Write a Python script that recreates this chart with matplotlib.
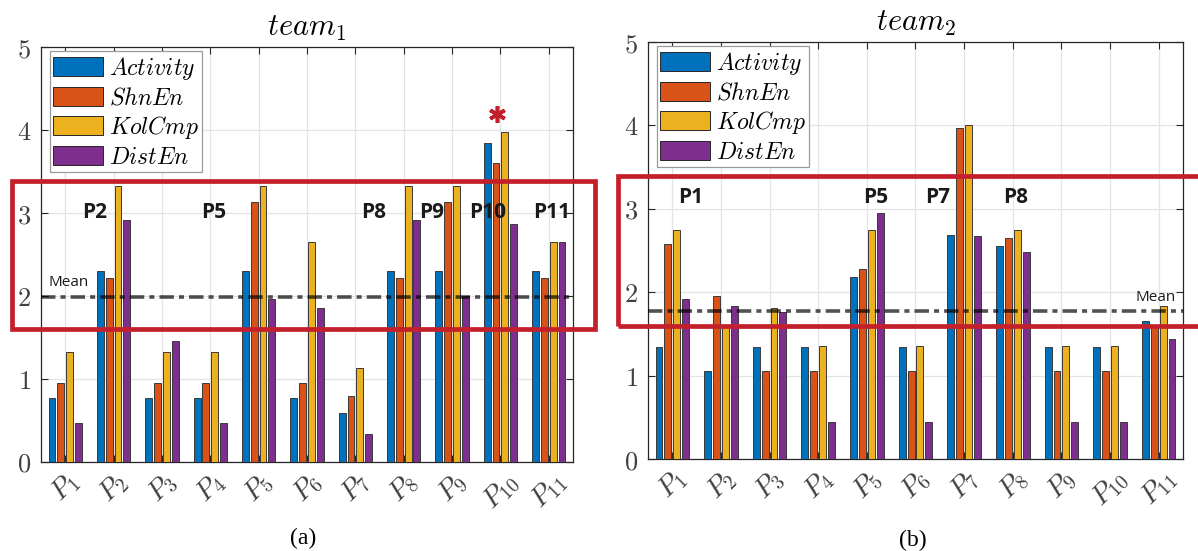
import matplotlib
matplotlib.use("Agg")
import matplotlib.pyplot as plt
import numpy as np
from matplotlib.patches import Rectangle

plt.rcParams["mathtext.fontset"] = "cm"
plt.rcParams["font.family"] = ["DejaVu Sans"]

# ── data ─────────────────────────────────────────────────────────────────
PARTICIPANTS = [f"P{i}" for i in range(1, 12)]
SERIES = ["Activity", "ShnEn", "KolCmp", "DistEn"]

team1_activity = [0.77, 2.30, 0.77, 0.77, 2.30, 0.77, 0.59, 2.30, 2.30, 3.84, 2.30]
team1_shnen = [0.95, 2.22, 0.95, 0.95, 3.13, 0.95, 0.79, 2.22, 3.13, 3.60, 2.22]
team1_kolcmp = [1.33, 3.32, 1.33, 1.33, 3.32, 2.65, 1.13, 3.32, 3.32, 3.98, 2.65]
team1_disten = [0.47, 2.92, 1.46, 0.47, 1.96, 1.86, 0.34, 2.92, 2.00, 2.87, 2.65]
team1_mean = 1.99
team1_marked = ["P2", "P5", "P8", "P9", "P10", "P11"]
team1_star = "P10"

team2_activity = [1.34, 1.05, 1.34, 1.34, 2.18, 1.34, 2.69, 2.55, 1.34, 1.34, 1.66]
team2_shnen = [2.58, 1.95, 1.05, 1.05, 2.28, 1.05, 3.97, 2.65, 1.05, 1.05, 1.60]
team2_kolcmp = [2.75, 1.59, 1.81, 1.36, 2.75, 1.36, 4.01, 2.75, 1.36, 1.36, 1.83]
team2_disten = [1.92, 1.83, 1.76, 0.44, 2.95, 0.44, 2.67, 2.48, 0.44, 0.44, 1.44]
team2_mean = 1.78
team2_marked = ["P1", "P5", "P7", "P8"]

COLORS = ["#0072BD", "#D95319", "#EDB120", "#7E2F8E"]
RED = "#C4202B"
W, H = 1198, 551


def draw_panel(ax, values, mean, title, marked, label_x, label_y, mean_xy, mean_ha):
    n = len(PARTICIPANTS)
    x = np.arange(1, n + 1)
    offsets = [-0.273, -0.091, 0.091, 0.273]
    for vals, off, col, name in zip(values, offsets, COLORS, SERIES):
        ax.bar(x + off, vals, width=0.142, color=col, edgecolor="#3a3a3a",
               linewidth=0.7, zorder=3, label=f"${name}$")

    ax.axhline(mean, color="black", alpha=0.68, linewidth=2.6,
               dashes=(4.0, 1.4, 1.4, 1.4), zorder=4)

    ax.set_xlim(0.5, n + 0.5)
    ax.set_ylim(0, 5)
    ax.set_xticks(x)
    ax.set_xticklabels([f"$P_{{{i}}}$" for i in x], rotation=45,
                       ha="center", fontsize=20)
    ax.set_yticks(range(6))
    ax.set_yticklabels([f"${i}$" for i in range(6)], fontsize=19)
    ax.tick_params(direction="in", top=True, right=True, length=5,
                   width=0.8, color="#262626", labelcolor="#404040")
    ax.tick_params(axis="y", pad=7)
    ax.tick_params(axis="x", pad=4)
    for sp in ax.spines.values():
        sp.set_color("#262626")
        sp.set_linewidth(0.9)
    ax.grid(True, color="#e4e4e4", linewidth=0.9)
    ax.set_axisbelow(True)
    ax.set_title(title, fontsize=22, pad=8)

    leg = ax.legend(loc="upper left", bbox_to_anchor=(0.016, 0.99),
                    borderaxespad=0, fontsize=17, handlelength=2.1,
                    handleheight=0.9, handletextpad=0.25, labelspacing=0.17,
                    borderpad=0.15, fancybox=False, framealpha=1)
    leg.get_frame().set_edgecolor("#9a9a9a")
    leg.get_frame().set_linewidth(0.9)
    for p in leg.get_patches():
        p.set_edgecolor("#262626")

    for name in marked:
        i = PARTICIPANTS.index(name) + 1
        ax.text(i + label_x[name], label_y, name, fontsize=15,
                fontweight="bold", family="Open Sans", color="#1a1a1a",
                ha="left", va="center", zorder=6)

    ax.text(mean_xy[0], mean_xy[1], "Mean", fontsize=11, family="Open Sans",
            color="#1a1a1a", ha=mean_ha, va="center", zorder=6)


fig = plt.figure(figsize=(W / 100, H / 100), dpi=100)
ax1 = fig.add_axes([41 / W, 1 - 462 / H, 532 / W, 415 / H])
ax2 = fig.add_axes([648 / W, 1 - 459 / H, 535 / W, 417 / H])

draw_panel(ax1, [team1_activity, team1_shnen, team1_kolcmp, team1_disten],
           team1_mean, r"$team_1$", team1_marked,
           {"P2": -0.64, "P5": -1.19, "P8": -0.89, "P9": -0.69,
            "P10": -0.65, "P11": -0.33},
           3.01, (0.65, 2.16), "left")
draw_panel(ax2, [team2_activity, team2_shnen, team2_kolcmp, team2_disten],
           team2_mean, r"$team_2$", team2_marked,
           {"P1": 0.11, "P5": -0.08, "P7": -0.80, "P8": -0.19},
           3.13, (11.35, 1.94), "right")

# red asterisk above the top bar of team 1
i_star = PARTICIPANTS.index(team1_star)
ax1.plot(i_star + 1 - 0.08, max(team1_kolcmp[i_star], team1_activity[i_star]) + 0.21,
         marker=(6, 2, 0), markersize=12, markeredgewidth=2.6, color=RED,
         zorder=7, clip_on=False)

# highlight boxes (figure pixel coordinates)
for x0, y0, x1, y1 in [(12, 181, 595, 329), (618, 176, 1215, 326)]:
    fig.add_artist(Rectangle((x0 / W, 1 - y1 / H), (x1 - x0) / W, (y1 - y0) / H,
                             transform=fig.transFigure, fill=False,
                             edgecolor=RED, linewidth=3.4, zorder=10))

fig.text(303 / W, 1 - 538 / H, "(a)", fontsize=17, family="Liberation Serif",
         ha="center", va="center")
fig.text(913 / W, 1 - 540 / H, "(b)", fontsize=17, family="Liberation Serif",
         ha="center", va="center")

fig.savefig("out.png", dpi=100, facecolor="white")
